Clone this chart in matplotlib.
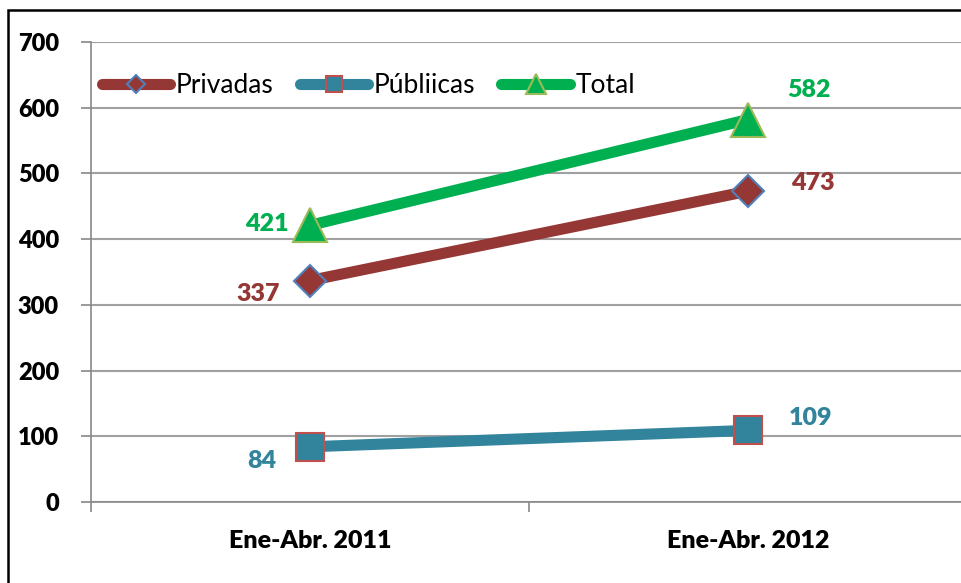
import matplotlib
matplotlib.use("Agg")
import matplotlib.pyplot as plt
from matplotlib.patches import Rectangle

categories = ["Ene-Abr. 2011", "Ene-Abr. 2012"]
privadas = [337, 473]
publicas = [84, 109]
total = [421, 582]
yticks = [0, 100, 200, 300, 400, 500, 600, 700]

FONT = ["Lato", "DejaVu Sans"]
plt.rcParams['font.family'] = FONT
W = "heavy"

fig = plt.figure(figsize=(9.61, 5.83), dpi=100)
ax = fig.add_axes([91/961, 81/583, 876/961, 460/583])

x = list(range(len(categories)))
c_priv, c_pub, c_tot = "#953735", "#31849B", "#00B050"
ax.plot(x, privadas, color=c_priv, lw=8, marker="D", ms=16, mfc=c_priv,
        mec="#4F81BD", mew=1.5, label="Privadas", solid_capstyle="round", zorder=3)
ax.plot(x, publicas, color=c_pub, lw=8, marker="s", ms=20, mfc=c_pub,
        mec="#C0504D", mew=1.5, label="Públiicas", solid_capstyle="round", zorder=3)
ax.plot(x, total, color=c_tot, lw=8, marker="^", ms=24, mfc=c_tot,
        mec="#9BBB59", mew=1.5, label="Total", solid_capstyle="round", zorder=3)

# data labels
lab_kw = dict(fontsize=18, fontweight=W, va="center")
for xi, v in zip(x, privadas):
    if xi == 0:
        ax.annotate(str(v), (xi, v), xytext=(-37, -10), textcoords="offset points", ha="center", color=c_priv, **lab_kw)
    else:
        ax.annotate(str(v), (xi, v), xytext=(47, 6), textcoords="offset points", ha="center", color=c_priv, **lab_kw)
for xi, v in zip(x, publicas):
    if xi == 0:
        ax.annotate(str(v), (xi, v), xytext=(-35, -10), textcoords="offset points", ha="center", color=c_pub, **lab_kw)
    else:
        ax.annotate(str(v), (xi, v), xytext=(45, 9), textcoords="offset points", ha="center", color=c_pub, **lab_kw)
for xi, v in zip(x, total):
    if xi == 0:
        ax.annotate(str(v), (xi, v), xytext=(-31, 1), textcoords="offset points", ha="center", color=c_tot, **lab_kw)
    else:
        ax.annotate(str(v), (xi, v), xytext=(44, 21), textcoords="offset points", ha="center", color=c_tot, **lab_kw)

ax.set_xlim(-0.5, len(categories) - 0.5)
ax.set_ylim(0, 700)
ax.set_yticks(yticks)
ax.set_yticklabels([str(t) for t in yticks], fontsize=17, fontweight=W)
ax.set_xticks(x)
ax.set_xticklabels(categories, fontsize=18, fontweight=W)
ax.set_xticks([i - 0.5 for i in range(len(categories) + 1)], minor=True)
ax.tick_params(axis="x", which="major", length=0, pad=20)
ax.tick_params(axis="x", which="minor", length=7, color="#888888", width=1.2)
ax.tick_params(axis="y", length=7, color="#888888", width=1.2, pad=16)
ax.grid(axis="y", color="#A0A0A0", lw=1.5, zorder=0)
ax.set_axisbelow(True)
for s in ["top", "right"]:
    ax.spines[s].set_visible(False)
for s in ["left", "bottom"]:
    ax.spines[s].set_color("#888888")
    ax.spines[s].set_linewidth(1.2)

leg = ax.legend(loc="upper left", bbox_to_anchor=(0.0, 0.955), ncol=3, frameon=False,
                fontsize=19, handlelength=2.6, columnspacing=1.0, handletextpad=0.2,
                borderaxespad=0.0, markerscale=0.6)

# outer frame
fig.patches.append(Rectangle((8/961, -0.1), 1.2, (583 - 10)/583 + 0.1, transform=fig.transFigure,
                             fill=False, edgecolor="black", lw=1.8))

fig.savefig("out.png", dpi=100)
